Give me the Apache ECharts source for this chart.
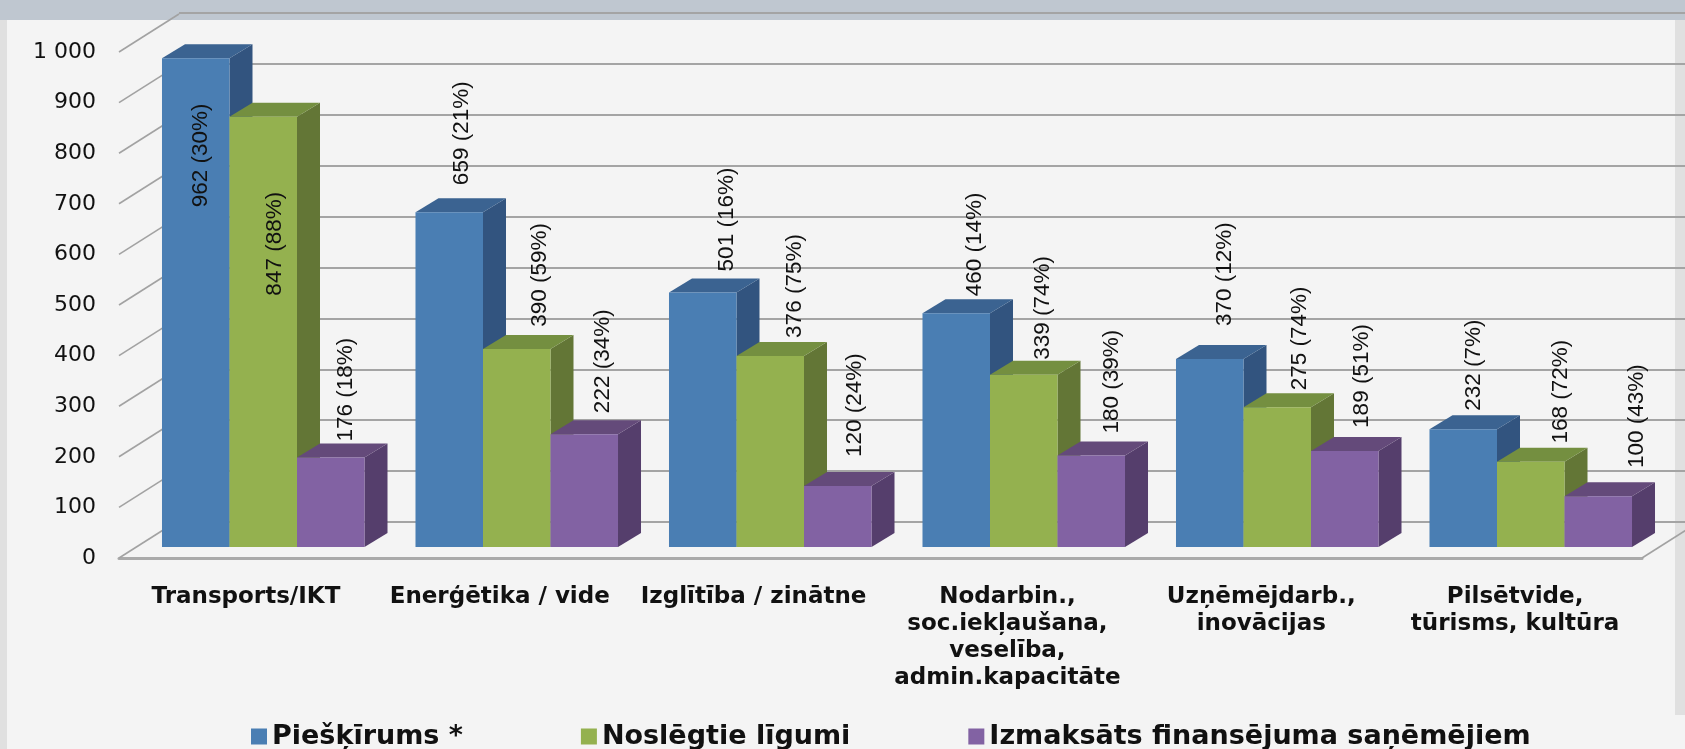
<!DOCTYPE html>
<html><head><meta charset="utf-8">
<style>html,body{margin:0;padding:0;background:#f4f4f4;overflow:hidden}
#c{width:1685px;height:749px;filter:blur(0.6px)}</style>
<script src="https://cdn.jsdelivr.net/npm/echarts@6/dist/echarts.min.js"></script>
</head><body><div id="c"></div>
<script>
const categories = ['Transports/IKT','Enerģētika / vide','Izglītība / zinātne','Nodarbin.,\nsoc.iekļaušana,\nveselība,\nadmin.kapacitāte','Uzņēmējdarb.,\ninovācijas','Pilsētvide,\ntūrisms, kultūra'];
const seriesNames = ['Piešķīrums *','Noslēgtie līgumi','Izmaksāts finansējuma saņēmējiem'];
const allocated = [962,659,501,460,370,232];
const contracts = [847,390,376,339,275,168];
const paid = [176,222,120,180,189,100];
const allocatedPct = ['30%','21%','16%','14%','12%','7%'];
const contractsPct = ['88%','59%','75%','74%','74%','72%'];
const paidPct = ['18%','34%','24%','39%','51%','43%'];
const tickValues = [0,100,200,300,400,500,600,700,800,900,1000];
const tickLabels = ['0','100','200','300','400','500','600','700','800','900','1 000'];

// styling only
const faces = [
  {front:'#4a7eb3',top:'#3b6391',side:'#32547f'},
  {front:'#94b14f',top:'#748f40',side:'#637636'},
  {front:'#8262a3',top:'#644a7a',side:'#553e6c'}
];
const barDepth = {dx:23,dy:-14}, wallDepth = {dx:60,dy:-38};
const barShare = 0.2663;
// hand placement of each rotated label relative to the bar's top centre [dx,dy]
const labelNudges = [
  [[5,97],[13,-79],[24,-73],[19,-69],[15,-85],[11,-64]],
  [[12,127],[23,-74],[25,-70],[19,-67],[23,-69],[30,-70]],
  [[15,-68],[19,-73],[17,-81],[21,-74],[17,-75],[39,-80]]
];
const seriesValues = [allocated,contracts,paid];
const seriesPct = [allocatedPct,contractsPct,paidPct];

function barSeries(j){
  return {
    type:'custom', name:seriesNames[j], xAxisIndex:2, yAxisIndex:2, z:5,
    itemStyle:{color:faces[j].front},
    data:seriesValues[j].map((v,k)=>[k,v]),
    renderItem(params,api){
      const k=api.value(0), v=api.value(1);
      const w=api.size([1,0])[0]*barShare;
      const top=api.coord([k,v]), base=api.coord([k,0]);
      const x=top[0]+(j-1.5)*w, yT=top[1], yB=base[1];
      const {dx,dy}=barDepth, f=faces[j];
      return {type:'group',children:[
        {type:'polygon',shape:{points:[[x+w,yT],[x+w+dx,yT+dy],[x+w+dx,yB+dy],[x+w,yB]]},style:{fill:f.side}},
        {type:'polygon',shape:{points:[[x,yT],[x+dx,yT+dy],[x+w+dx,yT+dy],[x+w,yT]]},style:{fill:f.top}},
        {type:'rect',shape:{x,y:yT,width:w,height:yB-yT},style:{fill:f.front}}
      ]};
    }
  };
}
function labelSeries(j){
  return {
    type:'custom', xAxisIndex:2, yAxisIndex:2, z:8, silent:true,
    data:seriesValues[j].map((v,k)=>[k,v]),
    renderItem(params,api){
      const k=api.value(0), v=api.value(1);
      const w=api.size([1,0])[0]*barShare;
      const top=api.coord([k,v]);
      const n=labelNudges[j][k];
      const pct=seriesPct[j][k];
      return {type:'text',x:top[0]+(j-1)*w+n[0],y:top[1]+n[1],rotation:Math.PI/2,
        style:{text:v+' ('+pct+')',x:0,y:0,align:'center',verticalAlign:'middle',
          fill:'#111111',font:'22.5px "Liberation Sans"'}};
    }
  };
}
const wallSeries = {
  type:'custom', xAxisIndex:1, yAxisIndex:1, z:1, silent:true,
  data:tickValues.map(v=>[0,v]),
  renderItem(params,api){
    const v=api.value(1), p=api.coord([0,v]);
    const x=params.coordSys.x, y=p[1];
    const st={stroke:'#a2a2a2',lineWidth:1.6,fill:null};
    const kids=[{type:'line',shape:{x1:x,y1:y,x2:x+wallDepth.dx,y2:y+wallDepth.dy},style:st}];
    if(v===0){const xr=x+params.coordSys.width;
      kids.push({type:'line',shape:{x1:xr,y1:y,x2:xr+wallDepth.dx,y2:y+wallDepth.dy},style:st});}
    return {type:'group',children:kids};
  }
};
const hidden={axisLabel:{show:false},axisLine:{show:false},axisTick:{show:false},splitLine:{show:false}};
const option={
  backgroundColor:'#f4f4f4', animation:false,
  graphic:{elements:[
    {type:'rect',z:-10,shape:{x:0,y:0,width:1685,height:20},style:{fill:'#bfc7d0'}},
    {type:'rect',z:-10,shape:{x:0,y:20,width:7,height:729},style:{fill:'#e0e0e0'}},
    {type:'rect',z:-10,shape:{x:1675,y:20,width:10,height:695},style:{fill:'#e0e0e0'}}
  ]},
  legend:{data:seriesNames,left:246,top:718,itemWidth:16,itemHeight:16,itemGap:118,icon:'rect',
    textStyle:{color:'#111111',fontFamily:'DejaVu Sans',fontWeight:'bold',fontSize:27}},
  grid:[
    {left:179,top:13,width:1523,height:509},
    {left:119,top:52,width:1523,height:506},
    {left:136.5,top:39,width:1521,height:508}
  ],
  xAxis:[
    Object.assign({type:'category',gridIndex:0,data:categories},hidden),
    {type:'category',gridIndex:1,data:categories,
      axisLine:{show:true,lineStyle:{color:'#aaaaaa',width:3}},axisTick:{show:false},splitLine:{show:false},
      axisLabel:{interval:0,margin:26,lineHeight:27,align:'center',verticalAlign:'top',color:'#111111',
        fontFamily:'DejaVu Sans',fontWeight:'bold',fontSize:23}},
    Object.assign({type:'category',gridIndex:2,data:categories},hidden)
  ],
  yAxis:[
    {type:'value',gridIndex:0,min:0,max:1000,interval:100,
      axisLabel:{show:false},axisLine:{show:false},axisTick:{show:false},
      splitLine:{show:true,lineStyle:{color:'#a4a4a4',width:2}}},
    {type:'value',gridIndex:1,min:0,max:1000,interval:100,
      axisLine:{show:false},axisTick:{show:false},splitLine:{show:false},
      axisLabel:{margin:23,color:'#111111',fontFamily:'DejaVu Sans',fontSize:22,
        formatter:v=>tickLabels[tickValues.indexOf(v)]}},
    Object.assign({type:'value',gridIndex:2,min:0,max:1000,interval:100},hidden)
  ],
  series:[wallSeries,barSeries(0),barSeries(1),barSeries(2),labelSeries(0),labelSeries(1),labelSeries(2)]
};
echarts.init(document.getElementById('c')).setOption(option);
</script></body></html>
